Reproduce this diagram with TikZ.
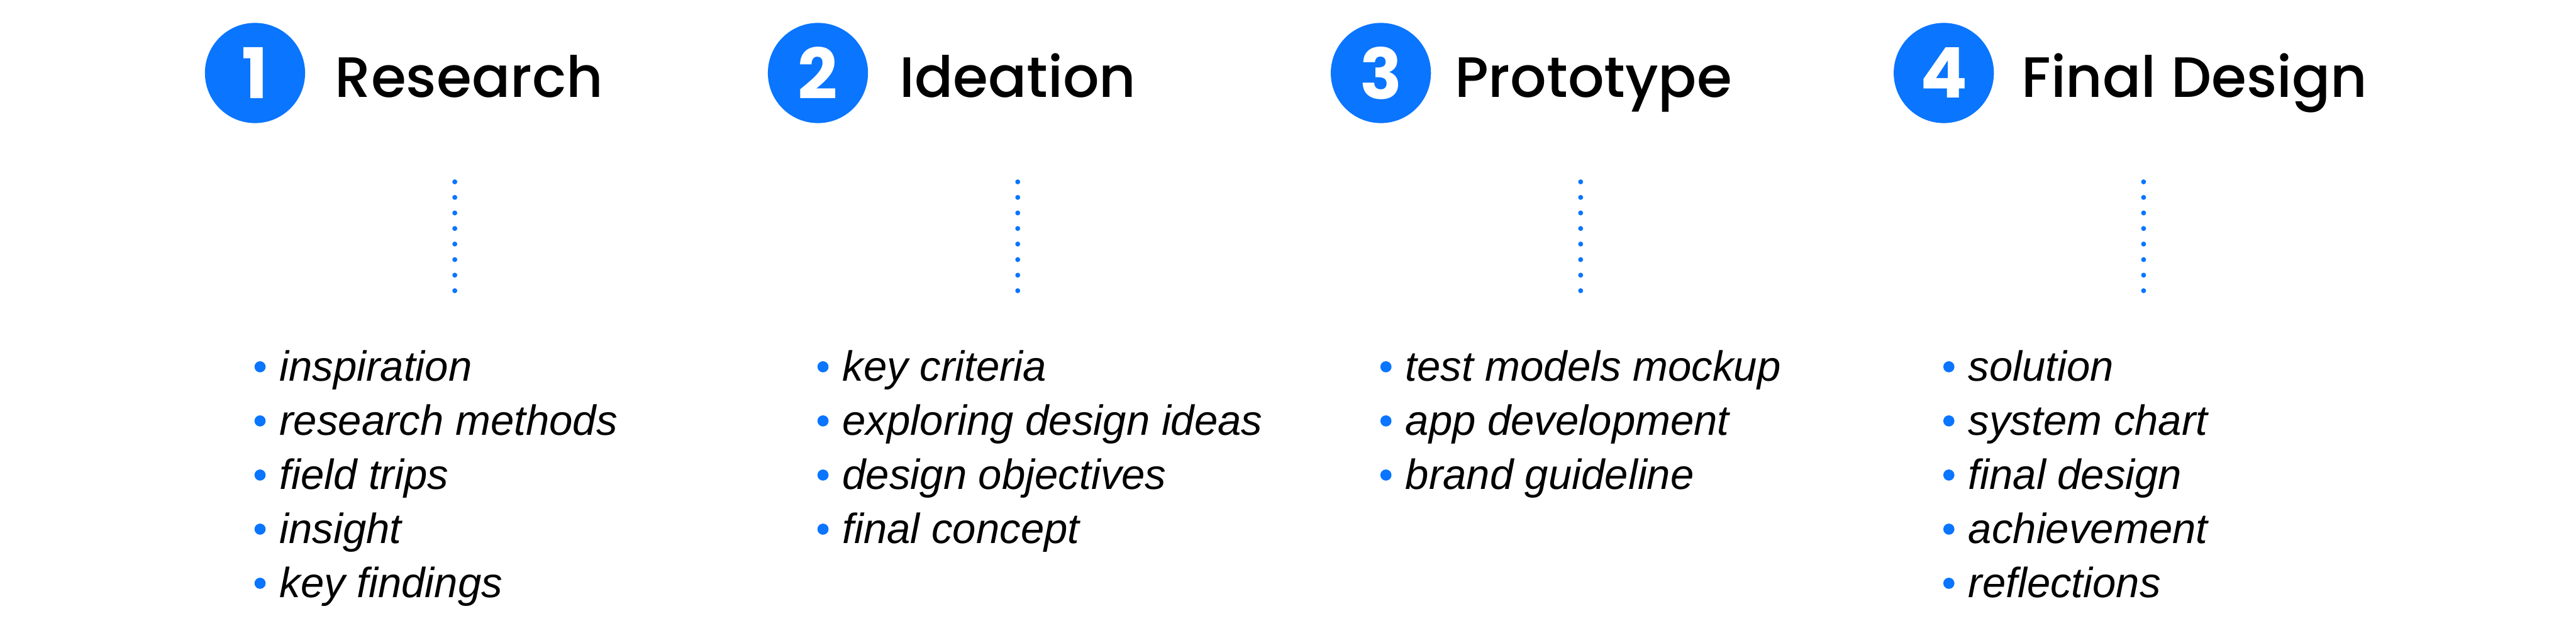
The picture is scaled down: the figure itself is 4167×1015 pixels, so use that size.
\documentclass[tikz,border=0pt]{standalone}
\usepackage{fontspec}
\setmainfont{Liberation Sans}
\newfontfamily\popfont{Poppins}
\newfontfamily\popmed{Poppins}[UprightFont=* Medium]
\definecolor{stepblue}{HTML}{0A75FF}
\begin{document}
\begin{tikzpicture}[x=1pt,y=-1pt]
\tikzset{
 numcircle/.style={circle, fill=stepblue, minimum size=162pt, inner sep=0pt, text=white, font=\popfont\bfseries\fontsize{113}{113}\selectfont},
 titletext/.style={anchor=base west, inner sep=0pt, font=\popmed\fontsize{92}{92}\selectfont},
 itemtext/.style={anchor=base west, inner sep=0pt, font=\itshape\fontsize{68.3}{68.3}\selectfont},
 itemdot/.style={circle, fill=stepblue, minimum size=18pt, inner sep=0pt},
 linkdot/.style={circle, fill=stepblue, minimum size=8pt, inner sep=0pt}
}
\useasboundingbox (0,0) rectangle (4167,1015);
\def\pitch{910.6}
% headers
\node[numcircle] (c1) at (412.5,118) {1};
\node[numcircle] (c2) at ({412.5+\pitch},118) {2};
\node[numcircle] (c3) at ({412.5+2*\pitch},118) {3};
\node[numcircle] (c4) at ({412.5+3*\pitch},118) {4};
\node[titletext] (t1) at (542,157) {Research};
\node[titletext] (t2) at (1455,157) {Ideation};
\node[titletext] (t3) at (2353,157) {Prototype};
\node[titletext] (t4) at (3270,157) {Final Design};
% dotted links
\foreach \c in {0,...,3}{
  \foreach \k in {0,...,7}{
    \node[linkdot] (d\c-\k) at ({735.7+\pitch*\c},{294+25.14*\k}) {};
  }
}
% item lists
\foreach \c/\lst in {0/{inspiration,research methods,field trips,insight,key findings},
                     1/{key criteria,exploring design ideas,design objectives,final concept},
                     2/{test models mockup,app development,brand guideline},
                     3/{solution,system chart,final design,achievement,reflections}}{
  \foreach \t [count=\r from 0] in \lst {
    \node[itemdot] (b\c-\r) at ({420.7+\pitch*\c},{593+87.5*\r}) {};
    \node[itemtext] (i\c-\r) at ({452+\pitch*\c},{616+87.5*\r}) {\t};
  }
}
\end{tikzpicture}
\end{document}
